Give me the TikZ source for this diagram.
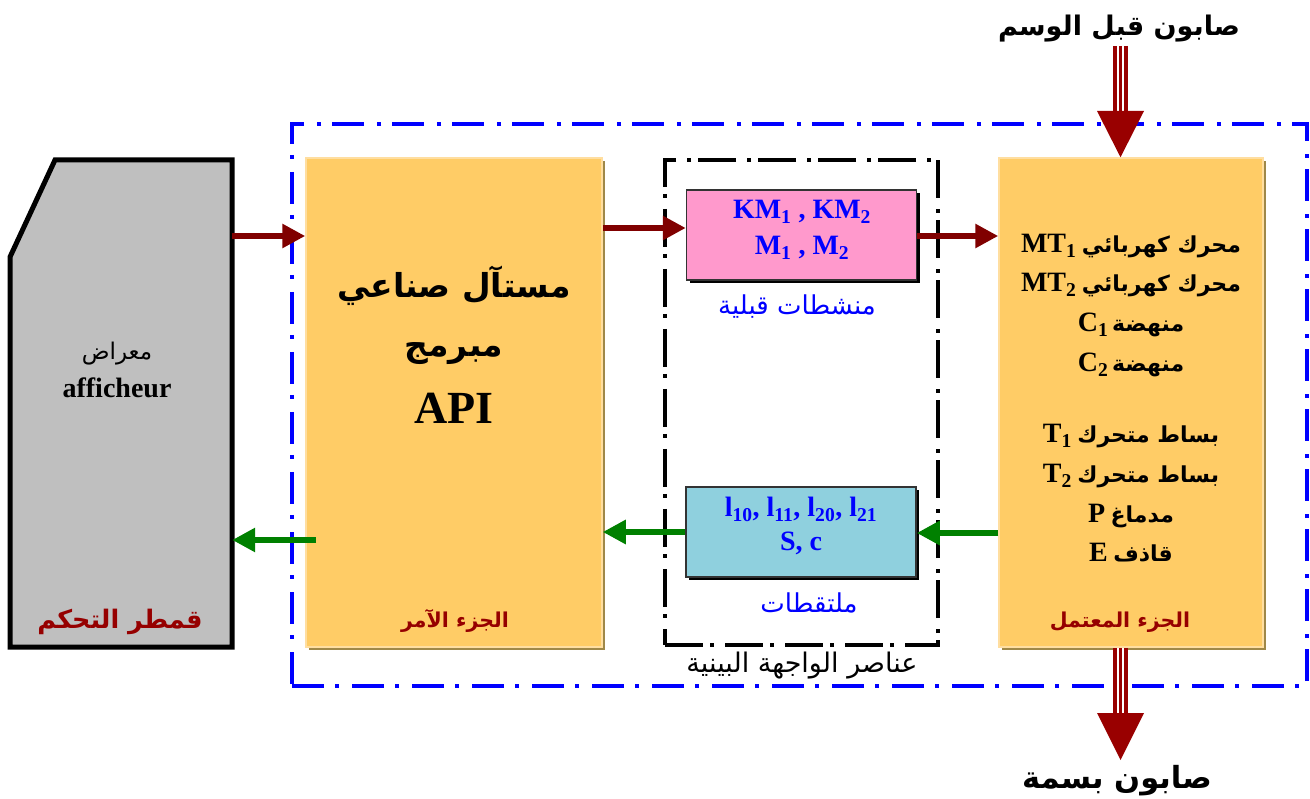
\documentclass[tikz,border=0pt]{standalone}
\usepackage{fontspec}
\setmainfont{Liberation Serif}
\newfontfamily\arabicfont[Script=Arabic]{DejaVu Sans}
\TeXXeTstate=1
\usetikzlibrary{arrows.meta,shadows}
\newcommand\ar[1]{{\arabicfont\beginR #1\endR}}
\newcommand\fs[1]{\fontsize{#1}{#1}\selectfont}
\definecolor{orng}{RGB}{255,204,102}
\definecolor{orngedge}{RGB}{255,222,160}
\definecolor{shad}{RGB}{160,136,72}
\definecolor{pinkc}{RGB}{255,153,204}
\definecolor{cyanc}{RGB}{143,208,222}
\definecolor{grayc}{RGB}{191,191,191}
\definecolor{arrred}{RGB}{128,0,0}
\definecolor{arrgreen}{RGB}{0,128,0}
\definecolor{labred}{RGB}{150,0,0}
\definecolor{bigred}{RGB}{153,0,0}
\definecolor{frameblue}{RGB}{0,0,255}
\begin{document}
\begin{tikzpicture}[x=1pt,y=-1pt,
  orangebox/.style={fill=orng, draw=orngedge, line width=1.5pt,
    drop shadow={shadow xshift=3pt, shadow yshift=-3pt, fill=shad, opacity=1}},
  elembox/.style={draw=black!80, line width=1.5pt,
    drop shadow={shadow xshift=3pt, shadow yshift=-3pt, fill=black, opacity=1}},
  redarrow/.style={draw=arrred, line width=6.5pt, -{Triangle[length=23pt,width=23pt]}},
  greenarrow/.style={draw=arrgreen, line width=6.5pt, -{Triangle[length=23pt,width=23pt]}},
  txt/.style={inner sep=0pt, anchor=base, align=center},
  latinb/.style={txt, font=\bfseries\fs{28pt}},
  reflab/.style={txt, text=labred, font=\bfseries\fs{20.5pt}},
  bluelab/.style={txt, text=frameblue, font=\fs{26pt}},
  bluetxt/.style={txt, text=frameblue, font=\bfseries\fs{28pt}},
  rtxt/.style={txt, font=\bfseries\fs{22pt}},
]
\useasboundingbox (0,0) rectangle (1310,799);

% frames
\node[draw=frameblue, line width=4pt, dash pattern=on 32pt off 11pt on 4pt off 13pt,
  minimum width=1015pt, minimum height=562pt, inner sep=0pt] (system) at (799.5,405) {};
\node[draw=black, line width=3.5pt, dash pattern=on 38pt off 7pt on 4pt off 11pt,
  minimum width=273pt, minimum height=485pt, inner sep=0pt] (iface) at (801.5,402.5) {};

% control desk
\node[minimum width=222pt, minimum height=487pt, inner sep=0pt] (ctrl) at (121,403.5) {};
\draw[fill=grayc, line width=5pt, line join=miter] (55,160) -- (232,160) -- (232,647) -- (10,647) -- (10,257) -- cycle;

% main boxes
\node[orangebox, minimum width=296pt, minimum height=489pt, inner sep=0pt] (api) at (454,402.5) {};
\node[orangebox, minimum width=264pt, minimum height=489pt, inner sep=0pt] (op) at (1131,402.5) {};
\node[elembox, fill=pinkc, minimum width=230pt, minimum height=90pt, inner sep=0pt] (pre) at (801.5,235) {};
\node[elembox, fill=cyanc, minimum width=230pt, minimum height=90pt, inner sep=0pt] (sens) at (801,532) {};

% texts: control desk
\node[txt, font=\fs{23pt}] (t1) at (117,360) {\ar{معراض}};
\node[latinb] (t2) at (117,398) {afficheur};
\node[reflab, font=\bfseries\fs{25.5pt}] (t3) at (120,628) {\ar{قمطر التحكم}};

% texts: API
\node[txt, font=\bfseries\fs{33pt}] (a1) at (454,298) {\ar{مستآل صناعي}};
\node[txt, font=\bfseries\fs{33pt}] (a2) at (454,357) {\ar{مبرمج}};
\node[txt, font=\bfseries\fs{46pt}] (a3) at (454,424) {API};
\node[reflab] (a4) at (455,627) {\ar{الجزء الآمر}};

% texts: interface
\node[bluetxt] (p1) at (802,219) {KM\textsubscript{1} , KM\textsubscript{2}};
\node[bluetxt] (p2) at (802,255) {M\textsubscript{1} , M\textsubscript{2}};
\node[bluelab] (p3) at (797,315) {\ar{منشطات قبلية}};
\node[bluetxt] (s1) at (801,517) {l\textsubscript{10}, l\textsubscript{11}, l\textsubscript{20}, l\textsubscript{21}};
\node[bluetxt] (s2) at (801,550) {S, c};
\node[bluelab] (s3) at (809,612) {\ar{ملتقطات}};
\node[txt, font=\fs{27pt}] (i1) at (802,672) {\ar{عناصر الواجهة البينية}};

% texts: operative part
\node[rtxt] (r1) at (1131,253) {{\fs{28pt}MT\textsubscript{1}} \ar{محرك كهربائي}};
\node[rtxt] (r2) at (1131,292) {{\fs{28pt}MT\textsubscript{2}} \ar{محرك كهربائي}};
\node[rtxt] (r3) at (1131,332) {{\fs{28pt}C\textsubscript{1}}\,\ar{منهضة}};
\node[rtxt] (r4) at (1131,372) {{\fs{28pt}C\textsubscript{2}}\,\ar{منهضة}};
\node[rtxt] (r5) at (1131,443) {{\fs{28pt}T\textsubscript{1}} \ar{بساط متحرك}};
\node[rtxt] (r6) at (1131,483) {{\fs{28pt}T\textsubscript{2}} \ar{بساط متحرك}};
\node[rtxt] (r7) at (1131,522) {{\fs{28pt}P} \ar{مدماغ}};
\node[rtxt] (r8) at (1131,561) {{\fs{28pt}E} \ar{قاذف}};
\node[reflab] (r9) at (1120,627) {\ar{الجزء المعتمل}};

% soap labels
\node[txt, font=\bfseries\fs{27pt}] (sin) at (1119,36) {\ar{صابون قبل الوسم}};
\node[txt, font=\bfseries\fs{30.5pt}] (sout) at (1117,788) {\ar{صابون بسمة}};

% connectors
\draw[redarrow] (ctrl.east |- 0,236) -- (api.west |- 0,236);
\draw[redarrow] (api.east |- 0,228) -- (pre.west |- 0,228);
\draw[redarrow] (pre.east |- 0,236) -- (op.west |- 0,236);
\draw[greenarrow] (op.west |- 0,533) -- (sens.east |- 0,533);
\draw[greenarrow] (sens.west |- 0,532) -- (api.east |- 0,532);
\coordinate (apiout) at (316,540);
\draw[greenarrow] (apiout) -- (ctrl.east |- apiout);

% soap flow arrows
\coordinate (soapin) at (1120.5,46);
\coordinate (soapout) at (1120.5,760);
\draw[bigred, line width=15pt] (soapin) -- (soapin |- 0,113);
\draw[white, line width=7pt] (soapin) -- (soapin |- 0,113);
\draw[bigred, line width=3pt] (soapin) -- (soapin |- 0,113);
\fill[bigred] (1097,111) -- (1144,111) -- (soapin |- op.north) -- cycle;
\draw[bigred, line width=15pt] (soapin |- op.south) -- (soapin |- 0,714);
\draw[white, line width=7pt] (soapin |- op.south) -- (soapin |- 0,714);
\draw[bigred, line width=3pt] (soapin |- op.south) -- (soapin |- 0,714);
\fill[bigred] (1097,713) -- (1144,713) -- (soapout) -- cycle;
\end{tikzpicture}
\end{document}
